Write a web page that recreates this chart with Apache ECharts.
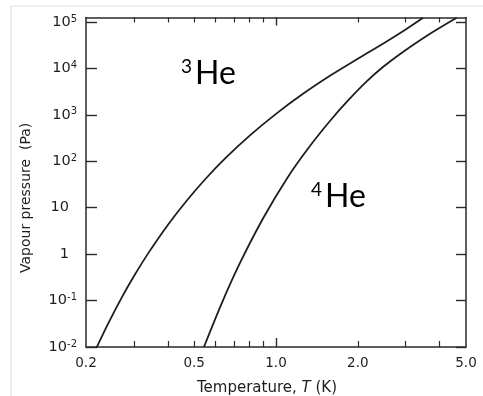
<!DOCTYPE html>
<html>
<head>
<meta charset="utf-8">
<script src="https://cdn.jsdelivr.net/npm/echarts@6/dist/echarts.min.js"></script>
<style>
  html, body { margin: 0; padding: 0; background: #fff; }
  #chart { width: 483px; height: 396px; }
</style>
</head>
<body>
<div id="chart"></div>
<script>
// Saturated vapour pressure of the two helium isotopes (T in K, P in Pa)
const he3Temp = [0.218, 0.24, 0.27, 0.30, 0.34, 0.40, 0.47, 0.55, 0.65, 0.80, 1.00, 1.25, 1.6, 2.0, 2.5, 3.0, 3.478];
const he3Pres = [0.00933, 0.0301, 0.1128, 0.333, 1.078, 4.26, 14.3, 41.5, 115, 357, 1052, 2770, 7280, 16200, 35450, 69250, 123700];

const he4Temp = [0.543, 0.636, 0.741, 0.900, 1.099, 1.316, 1.585, 1.845, 2.161, 2.481, 2.862, 3.627, 4.622];
const he4Pres = [0.0100, 0.0964, 0.687, 6.15, 43.2, 193, 755, 2068, 5333, 10840, 20550, 52700, 123700];

// Axis ticks and labels
const xMinorTicks = [0.3, 0.4, 0.5, 0.6, 0.7, 0.8, 0.9, 2, 3, 4];
const xLongTicks = [1];
const xLabelValues = [0.2, 0.5, 1, 2, 5];
const xLabelTexts = ['0.2', '0.5', '1.0', '2.0', '5.0'];
const yTickValues = [0.01, 0.1, 1, 10, 100, 1000, 10000, 100000];
const yLabelBase = ['10', '10', '1', '10', '10', '10', '10', '10'];
const yLabelExp = ['-2', '-1', '', '', '2', '3', '4', '5'];

const ink = '#1e1e1e';
const frame = '#2a2a2a';
const font = '"DejaVu Sans", Verdana, sans-serif';
const tagFont = 'Lato, "Open Sans", sans-serif';

function near(a, b) { return Math.abs(Math.log(a) - Math.log(b)) < 1e-6; }

const chart = echarts.init(document.getElementById('chart'), null, { renderer: 'canvas' });

const xBase = { type: 'log', logBase: 10, min: 0.2, max: 5, gridIndex: 0, splitLine: { show: false }, minorTick: { show: false } };
const yBase = { type: 'log', logBase: 10, min: 0.01, max: 125000, gridIndex: 0, splitLine: { show: false }, minorTick: { show: false } };

chart.setOption({
  animation: false,
  backgroundColor: '#ffffff',
  grid: { left: 86, right: 17, top: 17.5, bottom: 49, containLabel: false },
  xAxis: [
    Object.assign({}, xBase, {
      position: 'bottom',
      axisLine: { show: true, lineStyle: { color: frame, width: 1.5 } },
      axisTick: { show: true, inside: true, length: 6, customValues: xMinorTicks, lineStyle: { color: frame, width: 1.2 } },
      axisLabel: {
        show: true, customValues: xLabelValues, margin: 9,
        color: ink, fontFamily: font, fontSize: 13.5,
        formatter: function (v) {
          for (let i = 0; i < xLabelValues.length; i++) if (near(v, xLabelValues[i])) return xLabelTexts[i];
          return '';
        }
      }
    }),
    Object.assign({}, xBase, {
      position: 'top',
      axisLine: { show: true, lineStyle: { color: frame, width: 1.5 } },
      axisTick: { show: true, inside: true, length: 5, customValues: xMinorTicks, lineStyle: { color: frame, width: 1.2 } },
      axisLabel: { show: false }
    }),
    Object.assign({}, xBase, {
      position: 'bottom',
      axisLine: { show: false },
      axisTick: { show: true, inside: true, length: 9, customValues: xLongTicks, lineStyle: { color: frame, width: 1.4 } },
      axisLabel: { show: false }
    }),
    Object.assign({}, xBase, {
      position: 'top',
      axisLine: { show: false },
      axisTick: { show: true, inside: true, length: 8, customValues: xLongTicks, lineStyle: { color: frame, width: 1.4 } },
      axisLabel: { show: false }
    })
  ],
  yAxis: [
    Object.assign({}, yBase, {
      position: 'left',
      axisLine: { show: true, lineStyle: { color: frame, width: 1.5 } },
      axisTick: { show: true, inside: true, length: 11, customValues: yTickValues, lineStyle: { color: frame, width: 1.4 } },
      axisLabel: {
        show: true, customValues: yTickValues, margin: 9,
        color: ink, fontFamily: font, fontSize: 14.5,
        formatter: function (v) {
          for (let i = 0; i < yTickValues.length; i++) {
            if (near(v, yTickValues[i])) {
              return yLabelExp[i] ? '{b|' + yLabelBase[i] + '}{s|' + yLabelExp[i] + '}' : '{b|' + yLabelBase[i] + '}{p| }';
            }
          }
          return '';
        },
        rich: {
          b: { fontFamily: font, fontSize: 14.5, color: ink, lineHeight: 16 },
          s: { fontFamily: font, fontSize: 10, color: ink, verticalAlign: 'top', lineHeight: 16, padding: [0, 0, 7, 0] },
          p: { fontFamily: font, fontSize: 10, width: 8, lineHeight: 16 }
        }
      }
    }),
    Object.assign({}, yBase, {
      position: 'right',
      axisLine: { show: true, lineStyle: { color: frame, width: 1.5 } },
      axisTick: { show: true, inside: true, length: 10, customValues: yTickValues, lineStyle: { color: frame, width: 1.4 } },
      axisLabel: { show: false }
    })
  ],
  series: [
    {
      name: '3He', type: 'line', xAxisIndex: 0, yAxisIndex: 0,
      data: he3Temp.map((t, i) => [t, he3Pres[i]]),
      smooth: 0.3, showSymbol: false, symbol: 'none', clip: true,
      lineStyle: { color: ink, width: 1.8 }
    },
    {
      name: '4He', type: 'line', xAxisIndex: 0, yAxisIndex: 0,
      data: he4Temp.map((t, i) => [t, he4Pres[i]]),
      smooth: 0.3, showSymbol: false, symbol: 'none', clip: true,
      lineStyle: { color: ink, width: 1.8 }
    }
  ],
  graphic: [
    // faint page edge
    { type: 'line', silent: true, shape: { x1: 11, y1: 6, x2: 11, y2: 396 }, style: { stroke: '#d4d4d4', lineWidth: 1 } },
    { type: 'line', silent: true, shape: { x1: 11, y1: 6, x2: 483, y2: 6 }, style: { stroke: '#e2e2e2', lineWidth: 1 } },
    // isotope labels
    { type: 'text', left: 181, top: 57, style: { text: '3', fontFamily: tagFont, fontSize: 19, fill: '#000' } },
    { type: 'text', left: 195, top: 58, style: { text: 'He', fontFamily: tagFont, fontSize: 32, fill: '#000' } },
    { type: 'text', left: 311, top: 180, style: { text: '4', fontFamily: tagFont, fontSize: 19, fill: '#000' } },
    { type: 'text', left: 325, top: 181, style: { text: 'He', fontFamily: tagFont, fontSize: 32, fill: '#000' } },
    // axis titles
    {
      type: 'text', x: 197, y: 381,
      style: {
        text: '{n|Temperature, }{i|T}{n| (K)}',
        rich: {
          n: { fontFamily: font, fontSize: 15, fill: ink },
          i: { fontFamily: font, fontSize: 15, fontStyle: 'italic', fill: ink }
        }
      }
    },
    {
      type: 'text', x: 19, y: 273, rotation: Math.PI / 2,
      style: { text: 'Vapour pressure  (Pa)', fontFamily: font, fontSize: 14, fill: ink }
    }
  ]
});
</script>
</body>
</html>
